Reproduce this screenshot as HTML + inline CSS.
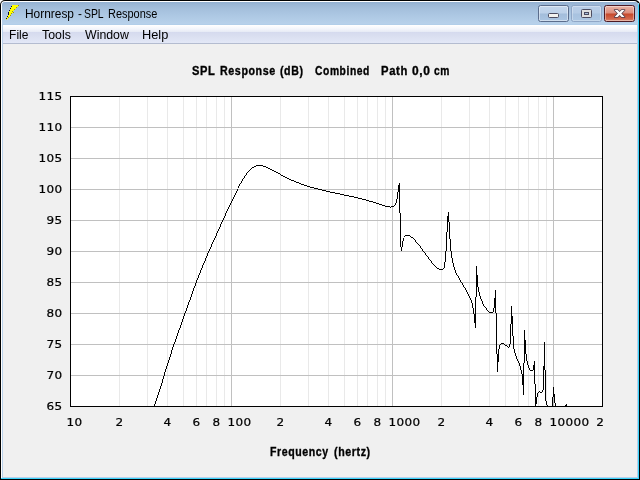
<!DOCTYPE html>
<html lang="en">
<head>
<meta charset="utf-8">
<title>Hornresp - SPL Response</title>
<style>
html,body{margin:0;padding:0;width:640px;height:480px;overflow:hidden;background:#fff;}
body{position:relative;font-family:"Liberation Sans",sans-serif;color:#000;}
*{box-sizing:border-box;}
.abs{position:absolute;}
#frame{position:absolute;left:0;top:0;width:640px;height:480px;background:#000;border-radius:5px 5px 0 0;}
#frame2{position:absolute;left:1px;top:478px;width:638px;height:1px;background:#3ad4fb;}
#frame2b{position:absolute;left:638px;top:3px;width:1px;height:476px;background:linear-gradient(to bottom,#9fe4fa 0,#3ad4fb 3px);}
#frame3{position:absolute;left:1px;top:1px;width:637px;height:477px;background:#fff;border-radius:4px 4px 0 0;}
#frame4{position:absolute;left:2px;top:2px;width:636px;height:476px;background:#b9d1ea;border-radius:3px 3px 0 0;}
#titlebar{position:absolute;left:2px;top:2px;width:636px;height:23px;border-radius:3px 3px 0 0;
  background:linear-gradient(to bottom,#92b0d0 0,#9ab6d5 2px,#a3bedb 6px,#abc6e2 12px,#b4cee8 19px,#b8d1ea 22px,#b2cee9 22px,#b2cee9 23px);}
#client{position:absolute;left:3px;top:25px;width:634px;height:452px;background:#f0f0f0;}
#menubar{position:absolute;left:3px;top:25px;width:634px;height:19px;
  background:linear-gradient(to bottom,#ffffff 0,#fdfdfe 1px,#f3f5fb 4px,#e6eaf5 7px,#d5daee 7px,#dbe0f1 12px,#e3e8f7 18px,#b4bcd0 18px,#b4bcd0 19px);}
.t{position:absolute;display:block;white-space:nowrap;font-size:12px;line-height:14px;height:14px;transform-origin:0 0;}
.b{font-weight:bold;font-size:12.5px;letter-spacing:0.7px;-webkit-text-stroke:0.35px #000;}
.yl{position:absolute;left:19.5px;width:43px;text-align:right;font:12px/14px "DejaVu Sans","Liberation Sans",sans-serif;letter-spacing:0.37px;height:14px;white-space:nowrap;transform:scaleY(0.917);transform-origin:0 0;-webkit-text-stroke:0.25px #000;}
.xl{position:absolute;top:416px;font:12px/14px "DejaVu Sans","Liberation Sans",sans-serif;letter-spacing:0.37px;height:14px;white-space:nowrap;transform:scaleY(0.917);transform-origin:0 0;-webkit-text-stroke:0.25px #000;}
#plot{position:absolute;left:0;top:0;}
.btn{position:absolute;top:5px;height:17px;border-radius:2.5px;}
</style>
</head>
<body>
<div id="frame"></div>
<div id="frame2"></div>
<div id="frame2b"></div>
<div id="frame3"></div>
<div id="frame4"></div>
<div id="titlebar"></div>
<div id="client"></div>
<div id="menubar"></div>

<svg class="abs" style="left:0;top:0" width="26" height="26" viewBox="0 0 26 26" shape-rendering="crispEdges">
  <path d="M12,5.5H19M12,6.5H18M11,7.5H17M11,8.5H16M10,9.5H15M10,10.5H14M9,11.5H13M9,12.5H14M9,13.5H12M9,14.5H11M8,15.5H11M8,16.5H10M7,17.5H9M7,18.5H8M6,19.5H7" stroke="#ffff00" stroke-width="1" fill="none"/>
  <path d="M18,5.5h1M16,7.5h1M14,9.5h1M12,11.5h1M13,12.5h1M11,13.5h1M10,15.5h1M8,17.5h1" stroke="#a39a00" stroke-width="1" fill="none"/>
  <path d="M11,6.5h1M10,8.5h1M9,10.5h1M8,12.5h1M8,13.5h1M8,14.5h1M7,16.5h1M6,18.5h1" stroke="#06063a" stroke-width="1" fill="none"/>
</svg>
<div id="title"><span class="t" style="left:24.61px;top:7px;transform:scaleX(0.9917)">Hornresp</span> <span class="t" style="left:77.50px;top:7px;transform:scaleX(0.9750)">-</span> <span class="t" style="left:84.13px;top:7px;transform:scaleX(0.8667)">SPL</span> <span class="t" style="left:107.89px;top:7px;transform:scaleX(0.9135)">Response</span></div>
<div id="menu"><span class="t" style="left:9.10px;top:28px;transform:scaleX(1.0000)">File</span> <span class="t" style="left:42.20px;top:28px;transform:scaleX(1.0286)">Tools</span> <span class="t" style="left:85.00px;top:28px;transform:scaleX(1.0279)">Window</span> <span class="t" style="left:142.23px;top:28px;transform:scaleX(1.0652)">Help</span></div>
<div id="heading"><span class="t b" style="left:191.87px;top:64px;transform:scaleX(0.8883)">SPL</span> <span class="t b" style="left:219.51px;top:64px;transform:scaleX(0.8540)">Response</span> <span class="t b" style="left:280.00px;top:64px;transform:scaleX(0.8481)">(dB)</span> <span class="t b" style="left:315.00px;top:64px;transform:scaleX(0.8237)">Combined</span> <span class="t b" style="left:380.96px;top:64px;transform:scaleX(0.9004)">Path</span> <span class="t b" style="left:412.10px;top:64px;transform:scaleX(0.9576)">0,0</span> <span class="t b" style="left:434.00px;top:64px;transform:scaleX(0.8203)">cm</span></div>
<div id="xtitle"><span class="t b" style="left:270.02px;top:445px;transform:scaleX(0.8458)">Frequency</span> <span class="t b" style="left:333.70px;top:445px;transform:scaleX(0.8513)">(hertz)</span></div>

<div class="btn" style="left:538px;width:31px;border:1px solid #5b6d8c;background:linear-gradient(to bottom,#c3d6ec 0,#bdd1e9 7px,#a3bddb 8px,#abc5e2 15px);box-shadow:inset 0 0 0 1px rgba(255,255,255,.45);"></div>
<div class="abs" style="left:548px;top:13px;width:11px;height:5px;background:#f2f2f0;border:1px solid #4c4c60;border-radius:1.5px;"></div>

<div class="btn" style="left:571px;width:31px;border:1px solid #8fa6c6;background:linear-gradient(to bottom,#b9cee8 0,#b5cbe5 7px,#a8c2df 8px,#adc7e3 15px);box-shadow:inset 0 0 0 1px rgba(255,255,255,.3);"></div>
<div class="abs" style="left:581px;top:9px;width:11px;height:9px;background:#e0e0e0;border:1px solid #4c4c60;border-radius:1.5px;"></div>
<div class="abs" style="left:584px;top:12px;width:5px;height:3px;background:#a9bfdc;border:1px solid #4c4c60;"></div>

<div class="btn" style="left:604px;width:31px;border:1px solid #4d1a24;background:linear-gradient(to bottom,#eab4a6 0,#dc8d7c 7px,#c6482b 8px,#d3694e 13px,#dd8c74 15px);box-shadow:inset 0 0 0 1px rgba(255,255,255,.4);"></div>
<svg class="abs" style="left:604px;top:5px" width="31" height="17" viewBox="0 0 31 17">
  <path d="M10.6,4.9 H13.6 L15.6,7 L17.6,4.9 H20.6 L17.3,8.5 L20.6,12.1 H17.6 L15.6,10 L13.6,12.1 H10.6 L13.9,8.5 Z" fill="#ffffff" stroke="#43384a" stroke-opacity="0.9" stroke-width="1.5" stroke-linejoin="round" paint-order="stroke"/>
</svg>



<svg id="plot" width="640" height="480" viewBox="0 0 640 480" shape-rendering="crispEdges">
<rect x="70" y="96" width="533" height="311" fill="#fff"/>
<path d="M119.5,97V406M147.5,97V406M167.5,97V406M183.5,97V406M196.5,97V406M206.5,97V406M216.5,97V406M224.5,97V406M280.5,97V406M308.5,97V406M328.5,97V406M344.5,97V406M357.5,97V406M367.5,97V406M377.5,97V406M385.5,97V406M441.5,97V406M469.5,97V406M489.5,97V406M505.5,97V406M518.5,97V406M528.5,97V406M538.5,97V406M546.5,97V406" stroke="#e9e9e9" stroke-width="1" fill="none"/>
<path d="M231.5,97V406M392.5,97V406M553.5,97V406M71,127.5H602M71,158.5H602M71,189.5H602M71,220.5H602M71,251.5H602M71,282.5H602M71,313.5H602M71,344.5H602M71,375.5H602" stroke="#c0c0c0" stroke-width="1" fill="none"/>
<path d="M154.5,404V406M155.5,401V404M156.5,398V401M157.5,395V398M158.5,392V395M159.5,389V392M160.5,386V389M161.5,383V386M162.5,379V383M163.5,376V379M164.5,372V376M165.5,369V372M166.5,366V369M167.5,363V366M168.5,360V363M169.5,357V360M170.5,354V357M171.5,350V354M172.5,347V350M173.5,344V347M174.5,342V344M175.5,339V342M176.5,336V339M177.5,333V336M178.5,330V333M179.5,328V330M180.5,325V328M181.5,322V325M182.5,319V322M183.5,316V319M184.5,313V316M185.5,311V313M186.5,308V311M187.5,305V308M188.5,302V305M189.5,300V302M190.5,297V300M191.5,294V297M192.5,291V294M193.5,288V291M194.5,286V288M195.5,283V286M196.5,280V283M197.5,278V280M198.5,275V278M199.5,273V275M200.5,270V273M201.5,268V270M202.5,265V268M203.5,263V265M204.5,261V263M205.5,258V261M206.5,256V258M207.5,253V256M208.5,251V253M209.5,249V251M210.5,247V249M211.5,244V247M212.5,242V244M213.5,240V242M214.5,238V240M215.5,236V238M216.5,233V236M217.5,231V233M218.5,229V231M219.5,227V229M220.5,224V227M221.5,222V224M222.5,220V222M223.5,218V220M224.5,216V218M225.5,213V216M226.5,211V213M227.5,209V211M228.5,207V209M229.5,205V207M230.5,203V205M231.5,201V203M232.5,199V201M233.5,197V199M234.5,195V197M235.5,193V195M236.5,191V193M237.5,189V191M238.5,186V188M239.5,184V186M240,183.5H241M241.5,181V183M242.5,179V181M243,178.5H244M244.5,176V178M245,175.5H246M246.5,173V175M247,172.5H248M248,171.5H249M249,170.5H250M250,169.5H251M251,168.5H252M252,167.5H254M254,166.5H256M256,165.5H263M263,166.5H266M266,167.5H268M268,168.5H270M270,169.5H272M272,170.5H274M274,171.5H276M276,172.5H278M278,173.5H280M280,174.5H281M281,175.5H283M283,176.5H285M285,177.5H287M287,178.5H289M289,179.5H291M291,180.5H294M294,181.5H296M296,182.5H299M299,183.5H301M301,184.5H304M304,185.5H307M307,186.5H310M310,187.5H314M314,188.5H318M318,189.5H322M322,190.5H326M326,191.5H330M330,192.5H335M335,193.5H340M340,194.5H344M344,195.5H349M349,196.5H354M354,197.5H358M358,198.5H362M362,199.5H366M366,200.5H369M369,201.5H373M373,202.5H376M376,203.5H379M379,204.5H382M382,205.5H385M385,206.5H390M390,207.5H391M391,206.5H394M394,205.5H395M395.5,203V205M396.5,199V203M397.5,192V199M398.5,185V192M399.5,183V213M400.5,213V247M401.5,247V251M402.5,241V247M403.5,238V241M404,236.5H405M405,235.5H410M410,236.5H411M411,237.5H413M413,238.5H414M414,239.5H415M415.5,240V242M416,242.5H417M417,243.5H418M418,244.5H419M419,245.5H420M420.5,246V248M421,248.5H422M422.5,249V251M423,251.5H424M424,252.5H425M425.5,253V255M426,255.5H427M427,256.5H428M428.5,257V259M429,259.5H430M430,260.5H431M431.5,261V263M432,263.5H433M433,264.5H434M434,265.5H435M435,266.5H436M436,267.5H437M437,268.5H439M439,269.5H443M443,268.5H444M444.5,262V268M445.5,251V262M446.5,232V251M447.5,216V232M448.5,212V222M449.5,222V239M450.5,239V251M451.5,251V258M452.5,258V263M453.5,263V267M454.5,267V270M455.5,270V273M456.5,273V275M457,275.5H458M458.5,276V278M459.5,278V280M460.5,280V282M461,282.5H462M462.5,283V285M463.5,285V287M464,287.5H465M465.5,288V290M466.5,290V292M467.5,292V294M468.5,294V296M469.5,296V298M470.5,298V300M471.5,300V303M472.5,303V308M473.5,308V314M474.5,314V323M475.5,297V328M476.5,266V297M477.5,275V287M478.5,287V292M479.5,292V296M480.5,296V299M481.5,299V301M482.5,301V304M483.5,304V306M484,306.5H485M485,307.5H486M486.5,308V310M487,310.5H488M488,311.5H489M489,312.5H493M493.5,308V312M494.5,298V308M495.5,290V313M496.5,313V354M497.5,354V372M498.5,349V362M499.5,345V349M500,344.5H501M501,343.5H504M504,344.5H505M505,345.5H507M507,346.5H508M508,347.5H509M509.5,344V347M510.5,324V344M511.5,306V324M512.5,316V336M513.5,336V349M514.5,349V353M515.5,353V356M516.5,356V359M517.5,359V361M518.5,361V363M519.5,363V366M520.5,366V370M521.5,370V374M522.5,374V385M523.5,363V395M524.5,330V363M525.5,340V354M526.5,354V361M527.5,361V365M528.5,365V368M529.5,368V370M530,370.5H533M533.5,365V370M534.5,361V384M535.5,384V406M536.5,397V404M537.5,393V397M538,392.5H539M539,391.5H540M540,392.5H542M542.5,390V392M543.5,366V390M544.5,342V370M545.5,370V401M546.5,401V405M547,405.5H548M552.5,397V406M553.5,387V397M554.5,394V403M555.5,403V406M565,405.5H566M566.5,404V406" stroke="#000" stroke-width="1" fill="none"/>
<rect x="70.5" y="96.5" width="532" height="310" fill="none" stroke="#000" stroke-width="1"/>
</svg>
<div class="yl" style="top:90px">115</div>
<div class="yl" style="top:121px">110</div>
<div class="yl" style="top:152px">105</div>
<div class="yl" style="top:183px">100</div>
<div class="yl" style="top:214px">95</div>
<div class="yl" style="top:245px">90</div>
<div class="yl" style="top:276px">85</div>
<div class="yl" style="top:307px">80</div>
<div class="yl" style="top:338px">75</div>
<div class="yl" style="top:369px">70</div>
<div class="yl" style="top:400px">65</div>
<div class="xl" style="left:66.4px">10</div>
<div class="xl" style="left:115.4px">2</div>
<div class="xl" style="left:163.4px">4</div>
<div class="xl" style="left:192.4px">6</div>
<div class="xl" style="left:212.4px">8</div>
<div class="xl" style="left:227.4px">100</div>
<div class="xl" style="left:276.4px">2</div>
<div class="xl" style="left:324.4px">4</div>
<div class="xl" style="left:353.4px">6</div>
<div class="xl" style="left:373.4px">8</div>
<div class="xl" style="left:388.4px">1000</div>
<div class="xl" style="left:437.4px">2</div>
<div class="xl" style="left:485.4px">4</div>
<div class="xl" style="left:514.4px">6</div>
<div class="xl" style="left:534.4px">8</div>
<div class="xl" style="left:549.4px">10000</div>
<div class="xl" style="left:596.3px">2</div>
</body>
</html>
